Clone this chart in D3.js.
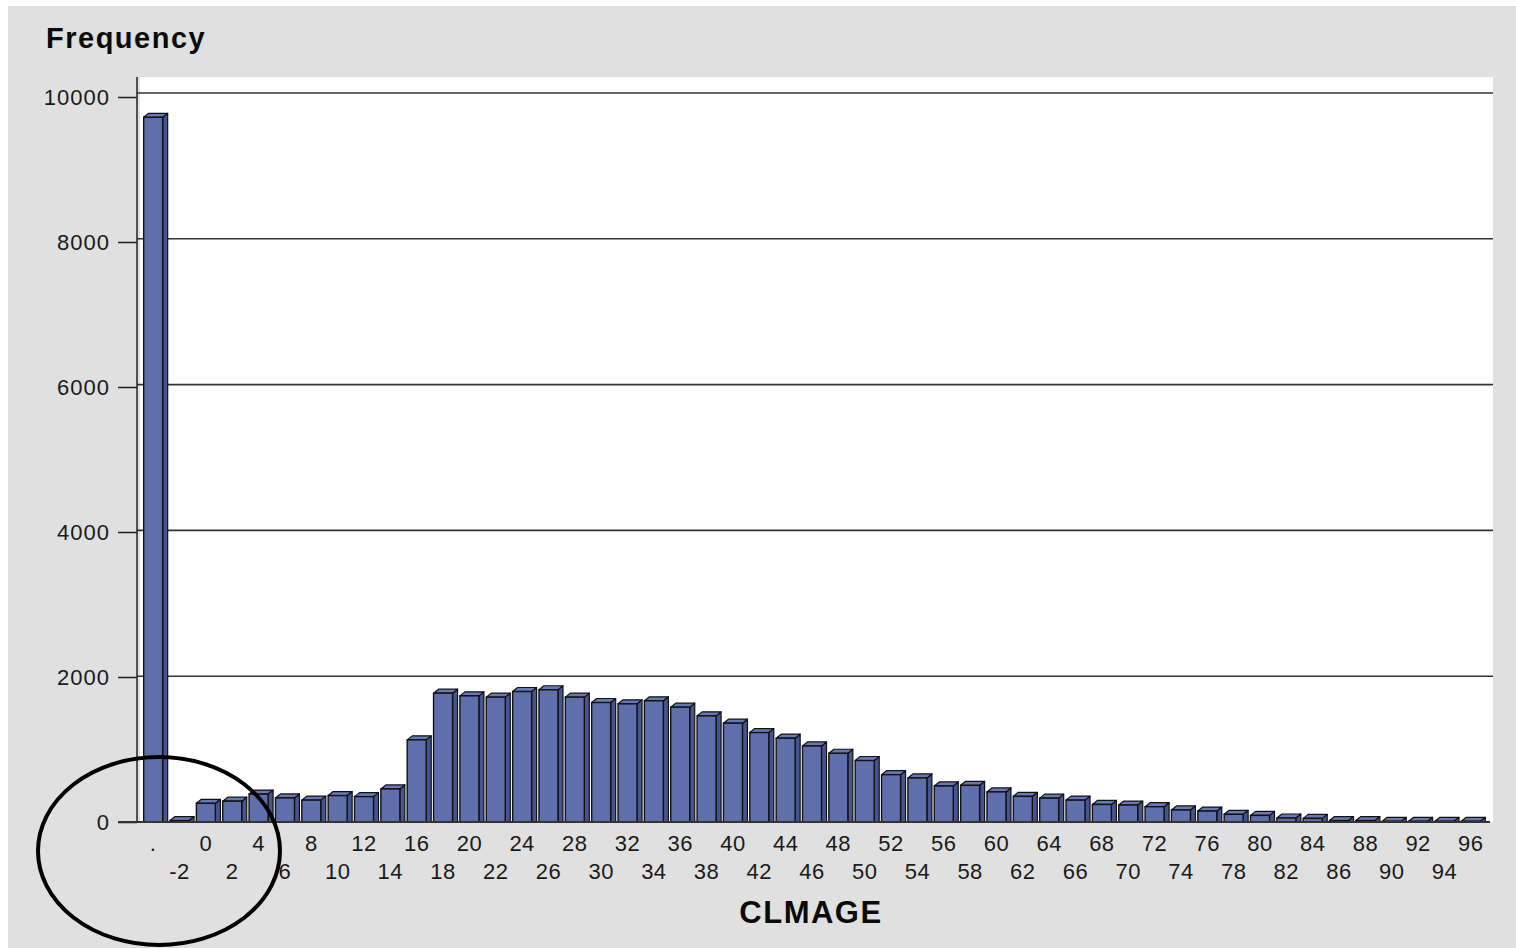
<!DOCTYPE html>
<html>
<head>
<meta charset="utf-8">
<script src="https://cdn.jsdelivr.net/npm/d3@7/dist/d3.min.js"></script>
<style>
  html, body { margin: 0; padding: 0; background: #ffffff; }
  svg { display: block; }
  text { font-family: "Liberation Sans", Arial, sans-serif; }
</style>
</head>
<body>
<svg id="chart" width="1516" height="948"></svg>
<script>
// CLMAGE categories: a missing-value bin "." followed by ages -2 .. 96 in steps of 2
const categories = [".", "-2", "0", "2", "4", "6", "8", "10", "12", "14", "16", "18", "20",
  "22", "24", "26", "28", "30", "32", "34", "36", "38", "40", "42", "44", "46", "48", "50",
  "52", "54", "56", "58", "60", "62", "64", "66", "68", "70", "72", "74", "76", "78", "80",
  "82", "84", "86", "88", "90", "92", "94", "96"];

// frequency of each bin
const frequency = [9720, 20, 258, 287, 385, 332, 302, 365, 350, 456, 1133, 1777, 1740,
  1722, 1800, 1824, 1722, 1648, 1630, 1672, 1584, 1464, 1363, 1234, 1156, 1049, 948, 848,
  653, 608, 497, 506, 415, 354, 329, 302, 242, 234, 211, 166, 151, 106, 91,
  55, 50, 20, 20, 10, 10, 10, 10];

const yTicks = [0, 2000, 4000, 6000, 8000, 10000];

const svg = d3.select("#chart");

// panel background
svg.append("rect").attr("x", 8).attr("y", 6).attr("width", 1508).attr("height", 942)
  .attr("fill", "#e0e0e0");

const plot = { left: 140, right: 1493, top: 77, bottom: 822 };

svg.append("rect")
  .attr("x", plot.left).attr("y", plot.top)
  .attr("width", plot.right - plot.left).attr("height", plot.bottom - plot.top)
  .attr("fill", "#ffffff");

const x = d3.scaleBand().domain(categories).range([140, 1484]).padding(0);
const y = d3.scaleLinear().domain([0, 10000]).range([822, 97]);

// gridlines sit on the back wall, raised by the bar depth
const depthY = 4, depthX = 5;
svg.append("g").selectAll("line")
  .data(yTicks.filter(t => t > 0))
  .join("line")
  .attr("x1", 137).attr("x2", plot.right)
  .attr("y1", d => y(d) - depthY * (d / 10000)).attr("y2", d => y(d) - depthY * (d / 10000))
  .attr("stroke", "#333333").attr("stroke-width", 1.6);

// y axis
const yAxis = d3.axisLeft(y).tickValues(yTicks).tickSize(19).tickPadding(8)
  .tickFormat(d3.format("d"));
const gy = svg.append("g").attr("transform", "translate(137,0)").call(yAxis);
gy.select(".domain").remove();
gy.selectAll(".tick line").attr("stroke", "#222").attr("stroke-width", 1.5);
gy.selectAll(".tick text")
  .attr("font-size", 22).attr("fill", "#1a1a1a")
  .attr("letter-spacing", "1px")
  .attr("font-family", "'Liberation Sans', Arial, sans-serif");
svg.append("line").attr("x1", 137).attr("x2", 137)
  .attr("y1", plot.top).attr("y2", plot.bottom)
  .attr("stroke", "#222").attr("stroke-width", 1.5);

// 3D-style bars
const bw = 19;
const bars = svg.append("g").selectAll("g")
  .data(categories.map((c, i) => ({ c, v: frequency[i] })))
  .join("g");

bars.each(function (d) {
  const g = d3.select(this);
  const cx = x(d.c) + x.bandwidth() / 2;
  const x0 = cx - bw / 2, x1 = cx + bw / 2;
  const yt = y(d.v), yb = y(0);
  // side face
  g.append("path")
    .attr("d", `M${x1},${yt} L${x1 + depthX},${yt - depthY} L${x1 + depthX},${yb} L${x1},${yb} Z`)
    .attr("fill", "#46558f").attr("stroke", "#111").attr("stroke-width", 1.2)
    .attr("stroke-linejoin", "round");
  // top face
  g.append("path")
    .attr("d", `M${x0},${yt} L${x0 + depthX},${yt - depthY} L${x1 + depthX},${yt - depthY} L${x1},${yt} Z`)
    .attr("fill", "#6878b4").attr("stroke", "#111").attr("stroke-width", 1.2)
    .attr("stroke-linejoin", "round");
  // front face
  g.append("rect")
    .attr("x", x0).attr("y", yt).attr("width", bw).attr("height", yb - yt)
    .attr("fill", "#5f6fab").attr("stroke", "#111").attr("stroke-width", 1.4);
});

// x baseline
svg.append("line").attr("x1", 118).attr("x2", 1490)
  .attr("y1", 822).attr("y2", 822)
  .attr("stroke", "#333").attr("stroke-width", 2);

// staggered category labels
svg.append("g").selectAll("text")
  .data(categories)
  .join("text")
  .attr("x", d => x(d) + x.bandwidth() / 2)
  .attr("y", (d, i) => i % 2 === 0 ? 851 : 879)
  .attr("text-anchor", "middle")
  .attr("font-size", 22)
  .attr("fill", "#1a1a1a")
  .attr("letter-spacing", "0.5px")
  .text(d => d);

// titles
svg.append("text").attr("x", 46).attr("y", 48)
  .attr("font-size", 29).attr("font-weight", "bold").attr("letter-spacing", "1.5px")
  .attr("fill", "#0a0a0a").text("Frequency");

svg.append("text").attr("x", 811).attr("y", 923)
  .attr("text-anchor", "middle")
  .attr("font-size", 31).attr("font-weight", "bold").attr("letter-spacing", "1.5px")
  .attr("fill", "#0a0a0a").text("CLMAGE");

// hand-drawn circle around the low end of the axis
svg.append("ellipse")
  .attr("cx", 159).attr("cy", 851).attr("rx", 121).attr("ry", 94)
  .attr("fill", "none").attr("stroke", "#000").attr("stroke-width", 4);
</script>
</body>
</html>
